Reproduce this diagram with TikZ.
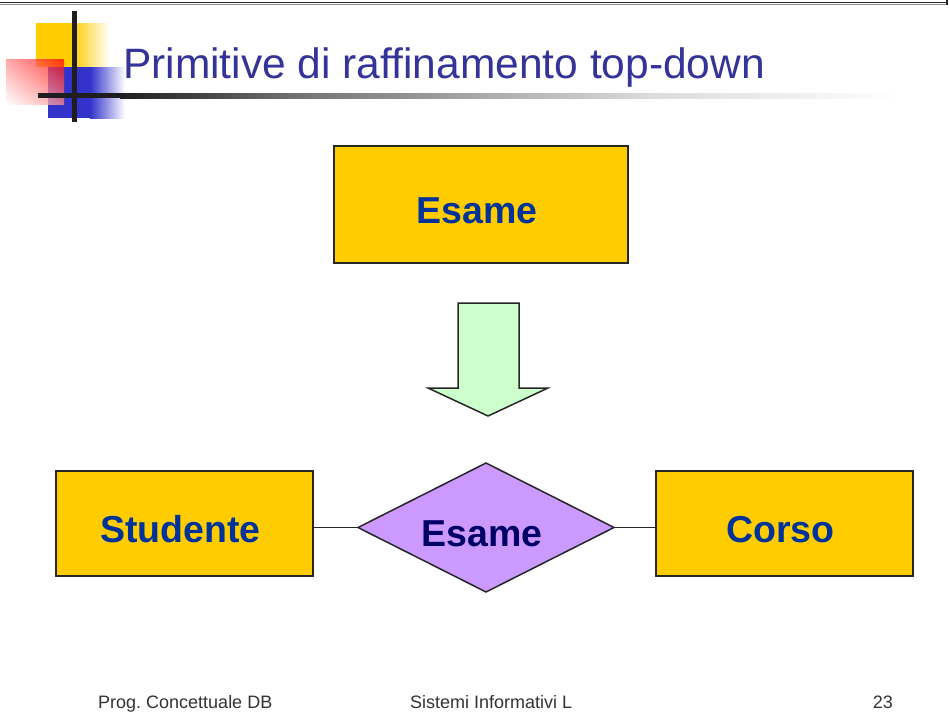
\documentclass[tikz,border=0pt]{standalone}
\usepackage{fontspec}
\setmainfont{Liberation Sans}[Ligatures=CommonOff]
\usetikzlibrary{shapes.geometric,shadings}
\definecolor{titleblue}{RGB}{51,51,153}
\definecolor{entblue}{RGB}{0,51,153}
\definecolor{relblue}{RGB}{0,0,102}
\definecolor{gold}{RGB}{255,204,0}
\definecolor{mint}{RGB}{204,255,204}
\definecolor{lilac}{RGB}{204,153,255}
\definecolor{logoblue}{RGB}{51,51,204}
\definecolor{barcol}{RGB}{30,30,30}
\definecolor{footgray}{RGB}{51,51,51}
\begin{document}
\frenchspacing
\begin{tikzpicture}[x=1pt,y=-1pt,
  outline/.style={draw=black!85,line width=1.5pt},
  boxtext/.style={font=\fontsize{37.5}{40}\selectfont\bfseries,
    text height=37pt,text depth=0pt,execute at begin node={\hspace*{-8pt}}},
  entity/.style={outline,boxtext,fill=gold,text=entblue,
    minimum width=257pt,minimum height=105pt,inner sep=0pt,outer sep=0pt},
  relation/.style={outline,boxtext,diamond,aspect=2,fill=lilac,text=relblue,
    minimum width=256pt,minimum height=129pt,inner sep=0pt,outer sep=0pt},
  link/.style={draw=black!85,line width=1.3pt},
  footer/.style={font=\fontsize{18}{20}\selectfont,text=footgray,inner sep=0pt}
]
\fill[white] (0,0) rectangle (949,720);
\useasboundingbox (0,0) rectangle (949,720);

% top frame line
\draw[line width=1.6pt,black!85] (0,2.5) -- (947,2.5);
\draw[line width=1pt,black!45] (0,4.2) -- (947,4.2);
\draw[line width=1.2pt,black!85] (947,0) -- (947,5);

% logo
\fill[gold] (36,23) rectangle (72,67);
\shade[left color=gold,right color=white] (72,23) rectangle (110,67);
\fill[logoblue] (48,67) rectangle (90,118);
\shade[left color=logoblue,right color=white] (90,67) rectangle (125,118);
\shade[upper right=red,upper left=red!45,lower right=red!45,lower left=white,opacity=0.75]
  (6,59) rectangle (64,104);
\fill[barcol] (72,11) rectangle (77,122);
\fill[barcol] (38,93) rectangle (120,98);
\shade[left color=barcol,right color=black!55] (120,93) rectangle (300,98);
\shade[left color=black!55,right color=black!14] (300,93) rectangle (650,98);
\shade[left color=black!14,right color=white] (650,93) rectangle (900,98);

% title
\node[anchor=base west,text=titleblue,font=\fontsize{42.5}{46}\selectfont,inner sep=0pt]
  (title) at (123,78) {Primitive di raffinamento top-down};

% top entity
\node[entity,minimum width=294pt,minimum height=117pt] (esame) at (481,204.5) {Esame};

% refinement arrow
\filldraw[outline,fill=mint] (458,303) -- (519,303) -- (519,388) -- (548,388)
  -- (488,416) -- (428,388) -- (458,388) -- cycle;

% ER schema
\node[entity] (studente) at (184.5,523.5) {Studente};
\node[relation] (rel) at (486,527.5) {Esame};
\node[entity] (corso) at (784.5,523.5) {Corso};
\draw[link] (studente.east |- rel.west) -- (rel.west);
\draw[link] (rel.east) -- (corso.west |- rel.east);

% footer
\node[footer,anchor=base west] (f1) at (98,708) {Prog. Concettuale DB};
\node[footer,anchor=base west] (f2) at (410,708) {Sistemi Informativi L};
\node[footer,anchor=base east] (f3) at (893,708) {23};
\end{tikzpicture}
\end{document}
